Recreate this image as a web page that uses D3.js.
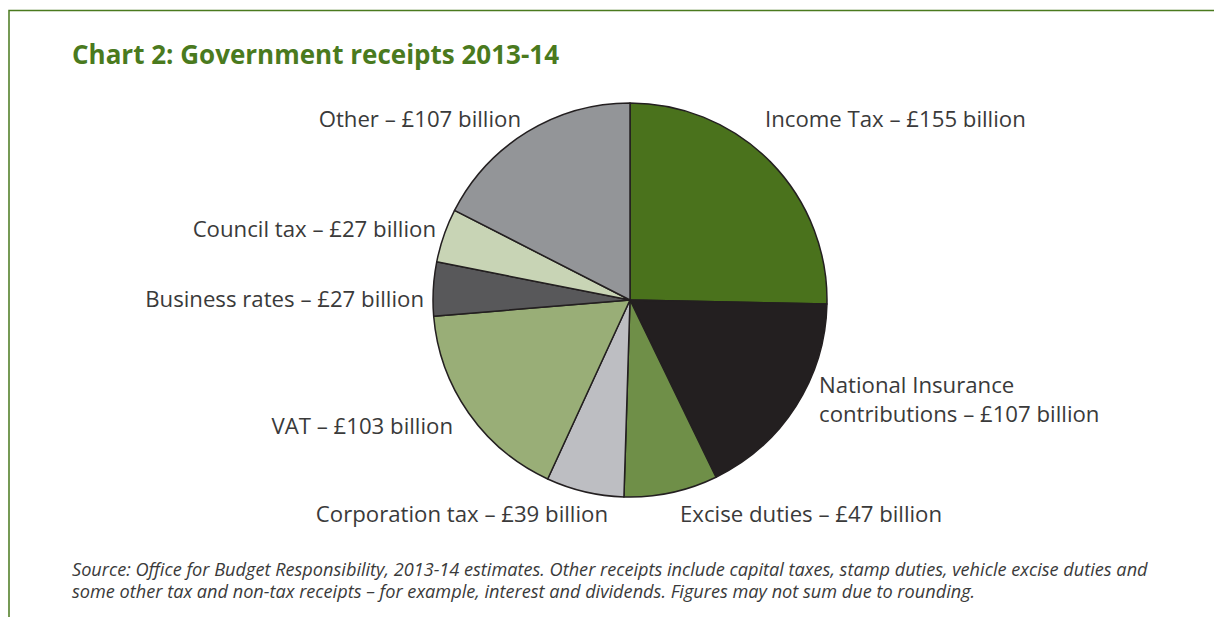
<!DOCTYPE html>
<html>
<head>
<meta charset="utf-8">
<script src="https://cdn.jsdelivr.net/npm/d3@7"></script>
<style>
  body { margin: 0; background: #fff; }
  svg { display: block; font-family: "Open Sans", "Noto Sans", sans-serif; }
</style>
</head>
<body>
<div id="chart"></div>
<script>
// Receipts, £ billion, clockwise from 12 o'clock
const categories = ["Income Tax", "National Insurance contributions", "Excise duties", "Corporation tax", "VAT", "Business rates", "Council tax", "Other"];
const values = [155, 107, 47, 39, 103, 27, 27, 107];
const colours = ["#4a721c", "#231f20", "#6f8f48", "#bdbec2", "#99ae77", "#58585a", "#c8d4b5", "#939598"];

// label lines and placement
const labelLines = [
  ["Income Tax – £155 billion"],
  ["National Insurance", "contributions – £107 billion"],
  ["Excise duties – £47 billion"],
  ["Corporation tax – £39 billion"],
  ["VAT – £103 billion"],
  ["Business rates – £27 billion"],
  ["Council tax – £27 billion"],
  ["Other – £107 billion"]
];
const labelPos = [
  { x: 765, y: 127, anchor: "start" },
  { x: 819, y: 393, anchor: "start" },
  { x: 680, y: 522, anchor: "start" },
  { x: 608, y: 522, anchor: "end" },
  { x: 453, y: 434, anchor: "end" },
  { x: 424, y: 307, anchor: "end" },
  { x: 436, y: 237, anchor: "end" },
  { x: 521, y: 127, anchor: "end" }
];

const width = 1214, height = 617;
const cx = 630, cy = 300, radius = 197;

const svg = d3.select("#chart").append("svg")
  .attr("width", width)
  .attr("height", height);

// frame lines (top and left)
svg.append("path")
  .attr("d", `M9,${height} L9,10.5 L${width},10.5`)
  .attr("fill", "none")
  .attr("stroke", "#4a7a1e")
  .attr("stroke-width", 1.5);

svg.append("text")
  .attr("x", 72)
  .attr("y", 64)
  .attr("fill", "#4a7a1e")
  .attr("font-size", 26)
  .attr("font-weight", "bold")
  .text("Chart 2: Government receipts 2013-14");

const pie = d3.pie().sort(null).value(d => d);
const arc = d3.arc().innerRadius(0).outerRadius(radius);

const g = svg.append("g").attr("transform", `translate(${cx},${cy})`);
g.selectAll("path")
  .data(pie(values))
  .enter()
  .append("path")
  .attr("d", arc)
  .attr("fill", (d, i) => colours[i])
  .attr("stroke", "#231f20")
  .attr("stroke-width", 1.5)
  .attr("stroke-linejoin", "round");

const labels = svg.append("g")
  .attr("font-size", 22.2)
  .attr("fill", "#3a3a3a");

labelLines.forEach((lines, i) => {
  const t = labels.append("text")
    .attr("x", labelPos[i].x)
    .attr("y", labelPos[i].y)
    .attr("text-anchor", labelPos[i].anchor);
  lines.forEach((line, j) => {
    t.append("tspan")
      .attr("x", labelPos[i].x)
      .attr("dy", j === 0 ? 0 : 29)
      .text(line);
  });
});

const note = svg.append("text")
  .attr("font-size", 18.15)
  .attr("font-style", "italic")
  .attr("fill", "#3a3a3a");
note.append("tspan").attr("x", 72).attr("y", 576)
  .text("Source: Office for Budget Responsibility, 2013-14 estimates. Other receipts include capital taxes, stamp duties, vehicle excise duties and");
note.append("tspan").attr("x", 72).attr("y", 598)
  .text("some other tax and non-tax receipts – for example, interest and dividends. Figures may not sum due to rounding.");
</script>
</body>
</html>
